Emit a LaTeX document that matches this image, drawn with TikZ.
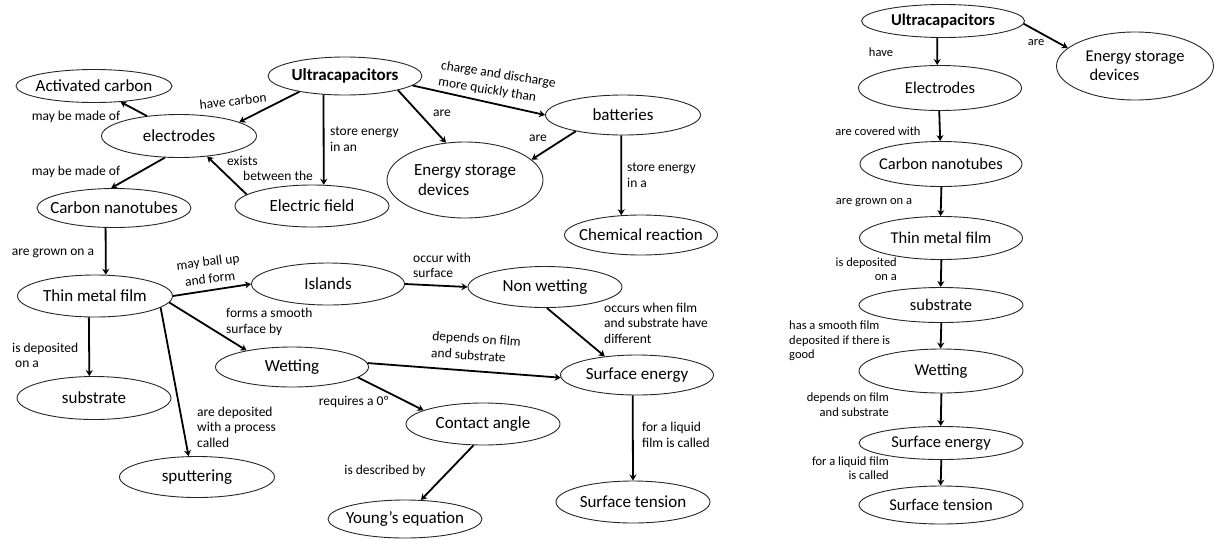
\documentclass[tikz,border=0pt]{standalone}
\usepackage{fontspec}
\setmainfont{Carlito}
\usetikzlibrary{shapes.geometric}
\usetikzlibrary{arrows.meta}

\tikzset{
  concept/.style={ellipse, draw=black!85, line width=0.9pt, inner xsep=-60pt, inner ysep=-12pt,
    minimum width=154pt, minimum height=41pt, font=\fontsize{17}{20}\selectfont},
  rconcept/.style={concept, minimum width=163pt, font=\fontsize{16.5}{19}\selectfont},
  lbl/.style={inner sep=0pt, align=left, font=\fontsize{13.5}{15.5}\selectfont},
  tiltlbl/.style={lbl, font=\fontsize{13.5}{17}\selectfont},
  rlbl/.style={inner sep=0pt, font=\fontsize{12.5}{14.5}\selectfont},
  arr/.style={-{Stealth[length=6pt,width=7pt]}, line width=1.8pt},
}

\begin{document}
\begin{tikzpicture}[x=1pt,y=-1pt]
  \useasboundingbox (0,0) rectangle (1214,539);

  % left map
  \node[concept, minimum height=38pt, font=\bfseries\fontsize{17}{20}\selectfont] (ultra) at (345,76) {Ultracapacitors};
  \node[concept, minimum width=156pt, minimum height=33pt] (actc) at (94,86) {Activated carbon};
  \node[concept, minimum width=155pt, minimum height=43pt] (elec) at (179,136) {electrodes};
  \node[concept, minimum height=39pt] (cnt) at (114,208) {Carbon nanotubes};
  \node[concept, minimum height=42pt] (efield) at (312,206) {Electric field};
  \node[concept, minimum width=155pt, minimum height=40pt] (batt) at (623,115) {batteries};
  \node[concept, minimum width=156pt, minimum height=76pt, align=left] (esd) at (465,180) {Energy storage\\\hspace*{4pt}devices};
  \node[concept, minimum width=153pt, minimum height=40pt] (chem) at (641,235) {Chemical reaction};
  \node[concept, minimum width=155pt, minimum height=42pt] (tmf) at (95,296) {Thin metal film};
  \node[concept, minimum width=153pt, minimum height=42pt] (isl) at (328,284) {Islands};
  \node[concept, minimum height=43pt] (subs) at (94,398) {substrate};
  \node[concept, minimum width=153pt, minimum height=40pt] (wet) at (292,367) {Wetting};
  \node[concept, minimum width=155pt] (sput) at (197,477) {sputtering};
  \node[concept] (nonwet) at (545,287) {Non wetting};
  \node[concept, minimum width=153pt, minimum height=40pt] (senergy) at (637,375) {Surface energy};
  \node[concept, minimum height=42pt] (cangle) at (483,424) {Contact angle};
  \node[concept, minimum height=38pt] (young) at (405,519) {Young’s equation};
  \node[concept, minimum height=42pt] (stension) at (633,502) {Surface tension};

  \draw[arr] (ultra.199) -- (elec.13);
  \draw[arr] (elec.148) -- (actc.329);
  \draw[arr] (elec.237) -- (cnt.98);
  \draw[arr] (ultra.221) -- (efield.61);
  \draw[arr] (efield.170) -- (elec.324);
  \draw[arr] (ultra.345) -- (esd.117);
  \draw[arr] (ultra.352) -- (batt.180);
  \draw[arr] (batt.199) -- (esd.17);
  \draw[arr] (batt.265) -- (chem.135);
  \draw[arr] (cnt.247) -- (tmf.63);
  \draw[arr] (tmf.0) -- (isl.180);
  \draw[arr] (tmf.254) -- (subs.102);
  \draw[arr] (tmf.350) -- (sput.112);
  \draw[arr] (tmf.355) -- (wet.160);
  \draw[arr] (isl.0) -- (nonwet.180);
  \draw[arr] (nonwet.275) -- (senergy.150);
  \draw[arr] (wet.3) -- (senergy.182);
  \draw[arr] (wet.351) -- (cangle.167);
  \draw[arr] (cangle.246) -- (young.50);
  \draw[arr] (senergy.258) -- (stension.90);

  \node[lbl, rotate=6] (l1) at (233,101) {have carbon};
  \node[lbl] (l2) at (76,117) {may be made of};
  \node[lbl] (l3) at (76,172) {may be made of};
  \node[lbl, anchor=west] (l4) at (330,139.5) {store energy\\in an};
  \node[lbl, anchor=west] (l5) at (227,168.5) {exists\\\hspace*{16pt}between the};
  \node[lbl] (l6) at (442,113) {are};
  \node[tiltlbl, rotate=-9] (l7) at (497,83) {charge and discharge\\more quickly than};
  \node[lbl] (l8) at (538,138) {are};
  \node[lbl, anchor=west] (l9) at (627,175.5) {store energy\\in a};
  \node[lbl] (l10) at (53,253) {are grown on a};
  \node[tiltlbl, rotate=7, align=center] (l11) at (209,270) {may ball up\\and form};
  \node[lbl, anchor=west] (l12) at (12,355.5) {is deposited\\\hspace*{3pt}on a};
  \node[lbl, anchor=west] (l13) at (197,427) {are deposited\\with a process\\called};
  \node[lbl, anchor=west] (l14) at (226,322) {forms a smooth\\surface by};
  \node[lbl, anchor=west] (l15) at (413,265.5) {occur with\\surface};
  \node[lbl, anchor=west] (l16) at (604,323) {occurs when film\\and substrate have\\different};
  \node[tiltlbl, rotate=-4] (l17) at (476,347) {depends on film\\and substrate};
  \node[lbl] (l18) at (354,402) {requires a 0º};
  \node[lbl] (l19) at (385,471) {is described by};
  \node[lbl, anchor=west] (l20) at (642,435) {for a liquid\\film is called};

  % right map
  \node[rconcept, minimum height=33pt, font=\bfseries\fontsize{16.5}{19}\selectfont] (rultra) at (943,21) {Ultracapacitors};
  \node[rconcept, minimum width=157pt, minimum height=68pt, align=left, font=\fontsize{16.5}{19}\selectfont] (resd) at (1135,66) {Energy storage\\\hspace*{4pt}devices};
  \node[rconcept, minimum height=45pt] (relec) at (940,88) {Electrodes};
  \node[rconcept, minimum width=162pt, minimum height=45pt] (rcnt) at (941,164) {Carbon nanotubes};
  \node[rconcept, minimum height=43pt] (rtmf) at (941,238) {Thin metal film};
  \node[rconcept, minimum width=164pt, minimum height=35pt] (rsubs) at (941,305) {substrate};
  \node[rconcept, minimum width=164pt, minimum height=44pt] (rwet) at (941,371) {Wetting};
  \node[rconcept, minimum width=164pt, minimum height=33pt] (rsen) at (941,443) {Surface energy};
  \node[rconcept, minimum width=164pt, minimum height=38pt] (rsten) at (941,505) {Surface tension};

  \draw[arr] (rultra.251) -- (relec.97);
  \draw[arr] (rultra.358) -- (resd.165);
  \draw[arr] (relec.268) -- (rcnt.92);
  \draw[arr] (rcnt.271) -- (rtmf.91);
  \draw[arr] (rtmf.271) -- (rsubs.91);
  \draw[arr] (rsubs.271) -- (rwet.91);
  \draw[arr] (rwet.271) -- (rsen.91);
  \draw[arr] (rsen.271) -- (rsten.91);

  \node[rlbl] (r1) at (881,52) {have};
  \node[rlbl] (r2) at (1036,43) {are};
  \node[rlbl] (r3) at (878,131) {are covered with};
  \node[rlbl] (r4) at (874,203) {are grown on a};
  \node[rlbl, anchor=east, align=right] (r5) at (897,269) {is deposited\\on a};
  \node[rlbl, anchor=west, align=left] (r6) at (789,341) {has a smooth film\\deposited if there is\\good};
  \node[rlbl, anchor=east, align=right] (r7) at (889,404.5) {depends on film\\and substrate};
  \node[rlbl, anchor=east, align=right] (r8) at (889,468) {for a liquid film\\is called};
\end{tikzpicture}
\end{document}
